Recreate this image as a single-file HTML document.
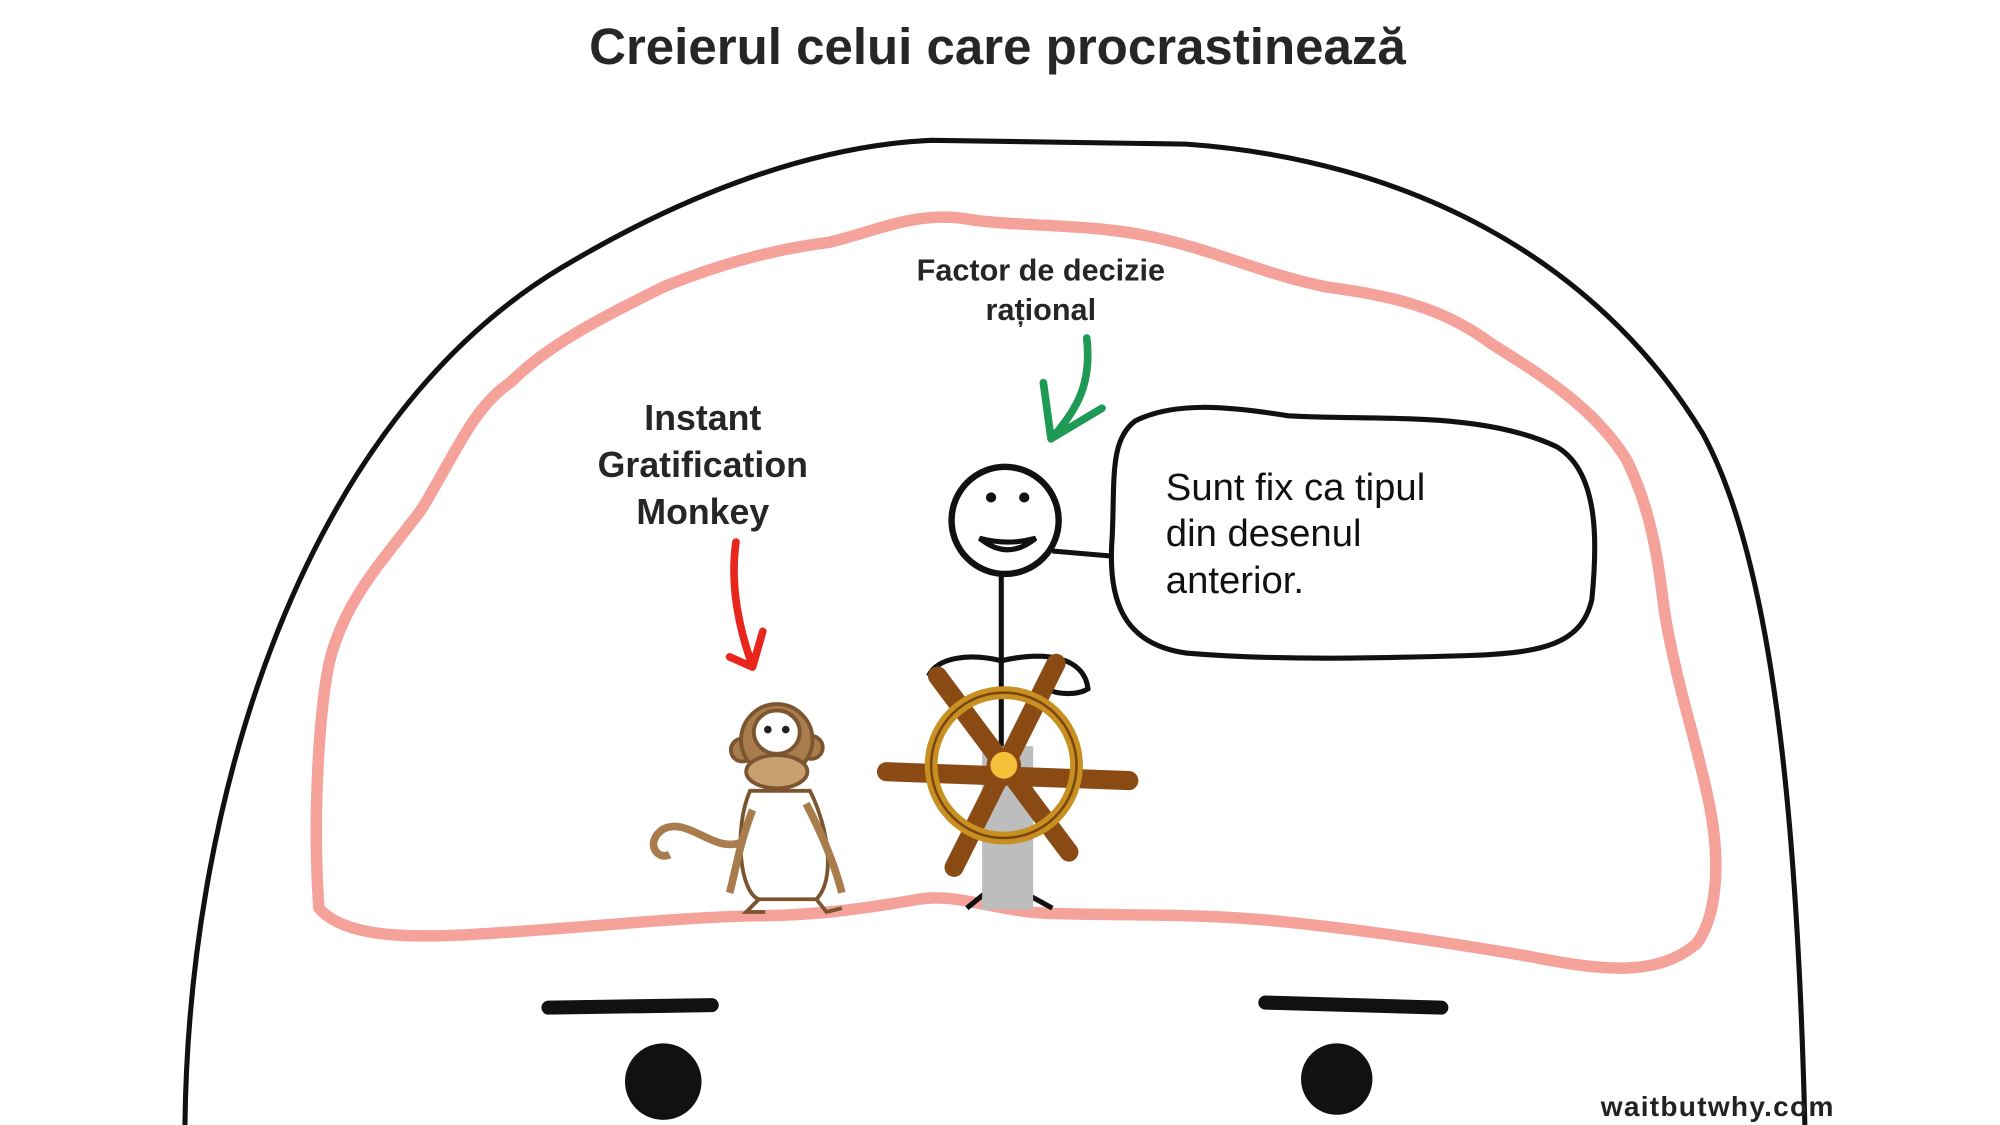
<!DOCTYPE html>
<html><head><meta charset="utf-8"><style>
html,body{margin:0;padding:0;background:#fff;}
svg{display:block}
</style></head><body>
<svg width="2000" height="1125" viewBox="0 0 1568 882" xmlns="http://www.w3.org/2000/svg">
<rect width="1568" height="882" fill="#fff"/>
<text x="782" y="50" text-anchor="middle" font-family="Liberation Sans, sans-serif" font-weight="bold" font-size="40" fill="#262626">Creierul celui care procrastinează</text>
<!-- head -->
<path d="M145,882 C148,620 240,330 440,210 C540,150 640,114 730,110 L930,113 C1100,125 1250,200 1335,340 C1395,450 1410,680 1415,882" fill="none" stroke="#111" stroke-width="4"/>
<!-- brain -->
<path d="M250,712 C245,640 250,560 258,520 C270,470 300,440 330,400 C355,360 370,320 400,300 C430,270 470,250 520,225 C570,205 610,195 650,190 C690,180 720,165 760,172 C800,178 850,175 900,185 C950,195 990,215 1040,225 C1090,232 1130,240 1170,270 C1210,295 1250,320 1275,360 C1295,400 1300,440 1305,480 C1315,540 1330,580 1340,630 C1350,680 1345,720 1330,740 C1300,765 1260,762 1200,750 C1130,738 1060,728 1000,722 C940,716 880,718 820,716 C780,714 750,700 720,705 C680,712 640,718 590,718 C520,720 450,728 380,732 C320,736 270,735 250,712 Z" fill="none" stroke="#f5a29a" stroke-width="9" stroke-linejoin="round"/>
<!-- eyebrows & eyes -->
<line x1="430" y1="790" x2="558" y2="788" stroke="#111" stroke-width="11" stroke-linecap="round"/>
<line x1="992" y1="786" x2="1130" y2="790" stroke="#111" stroke-width="11" stroke-linecap="round"/>
<circle cx="520" cy="848" r="30" fill="#111"/>
<circle cx="1048" cy="846" r="28" fill="#111"/>
<text x="1255" y="875" font-family="Liberation Sans, sans-serif" font-weight="bold" font-size="22" letter-spacing="1" fill="#222">waitbutwhy.com</text>
<!-- labels -->
<g font-family="Liberation Sans, sans-serif" font-weight="bold" fill="#262626" text-anchor="middle">
<text x="816" y="220" font-size="24">Factor de decizie</text>
<text x="816" y="251" font-size="24">rațional</text>
<text x="551" y="337" font-size="28">Instant</text>
<text x="551" y="374" font-size="28">Gratification</text>
<text x="551" y="411" font-size="28">Monkey</text>
</g>
<!-- green arrow -->
<path d="M852,265 C856,300 845,320 826,342 M818,300 L824,344 L864,320" fill="none" stroke="#1e9a55" stroke-width="6" stroke-linecap="round" stroke-linejoin="round"/>
<!-- red arrow -->
<path d="M577,425 C572,460 580,495 590,522 M572,515 L590,523 L598,495" fill="none" stroke="#e8261c" stroke-width="6" stroke-linecap="round" stroke-linejoin="round"/>
<!-- speech bubble -->
<path d="M890,330 C920,315 960,318 1010,326 C1080,330 1160,322 1220,350 C1255,370 1252,430 1248,470 C1240,505 1210,512 1150,514 C1080,516 1000,518 930,512 C880,505 868,470 872,420 C874,375 870,345 890,330 Z" fill="#fff" stroke="#111" stroke-width="4"/>
<g font-family="Liberation Sans, sans-serif" font-size="30" fill="#111">
<text x="914" y="392">Sunt fix ca tipul</text>
<text x="914" y="428">din desenul</text>
<text x="914" y="465">anterior.</text>
</g>
<!-- stick figure -->
<line x1="825" y1="432" x2="872" y2="436" stroke="#111" stroke-width="4"/>
<circle cx="788" cy="408" r="42" fill="#fff" stroke="#111" stroke-width="5"/>
<circle cx="777" cy="390" r="4" fill="#111"/>
<circle cx="803" cy="390" r="4" fill="#111"/>
<path d="M768,422 Q790,440 812,422 Q790,428 768,422 Z" fill="#fff" stroke="#111" stroke-width="4"/>
<line x1="785" y1="450" x2="785" y2="700" stroke="#111" stroke-width="4"/>
<path d="M785,690 L758,712 M785,690 L825,712" stroke="#111" stroke-width="4" fill="none"/>
<path d="M785,518 C760,512 735,515 728,530 M785,518 C820,510 850,515 853,540 C845,545 830,545 820,540" stroke="#111" stroke-width="4" fill="none"/>
<!-- pole -->
<rect x="770" y="585" width="40" height="128" fill="#bdbdbd"/>
<!-- wheel -->
<g stroke="#8a4a14" stroke-linecap="round">
<g stroke-width="15">
<line x1="695" y1="605" x2="885" y2="612"/>
<line x1="735" y1="530" x2="838" y2="668"/>
<line x1="828" y1="520" x2="748" y2="680"/>
</g>
</g>
<circle cx="787" cy="600" r="57" fill="none" stroke="#c89020" stroke-width="10"/>
<circle cx="787" cy="600" r="57" fill="none" stroke="#7a4512" stroke-width="2"/>
<circle cx="787" cy="600" r="12" fill="#f3c23a" stroke="#8a4a14" stroke-width="3"/>
<!-- monkey -->
<g stroke="#7a5530" stroke-width="3" fill="#a87c4c">
<path d="M582,660 C560,670 540,640 520,650 C505,660 515,675 525,670" fill="none" stroke="#a87c4c" stroke-width="6"/>
<path d="M588,620 C575,650 580,700 595,705 L640,705 C655,690 650,650 635,620 Z" fill="#fff"/>
<path d="M595,705 L585,715 L600,715 M640,705 L648,715 L660,712" fill="none"/>
<path d="M590,635 C580,660 575,690 572,700 M632,630 C645,655 655,680 660,700" fill="none" stroke-width="6" stroke="#a87c4c"/>
<circle cx="582" cy="588" r="9"/>
<circle cx="636" cy="586" r="9"/>
<circle cx="609" cy="580" r="28"/>
<ellipse cx="609" cy="574" rx="18" ry="17" fill="#fff"/>
<circle cx="602" cy="572" r="3" fill="#222" stroke="none"/>
<circle cx="616" cy="572" r="3" fill="#222" stroke="none"/>
<ellipse cx="609" cy="605" rx="24" ry="13" fill="#c8a070"/>
</g>
</svg>
</body></html>
